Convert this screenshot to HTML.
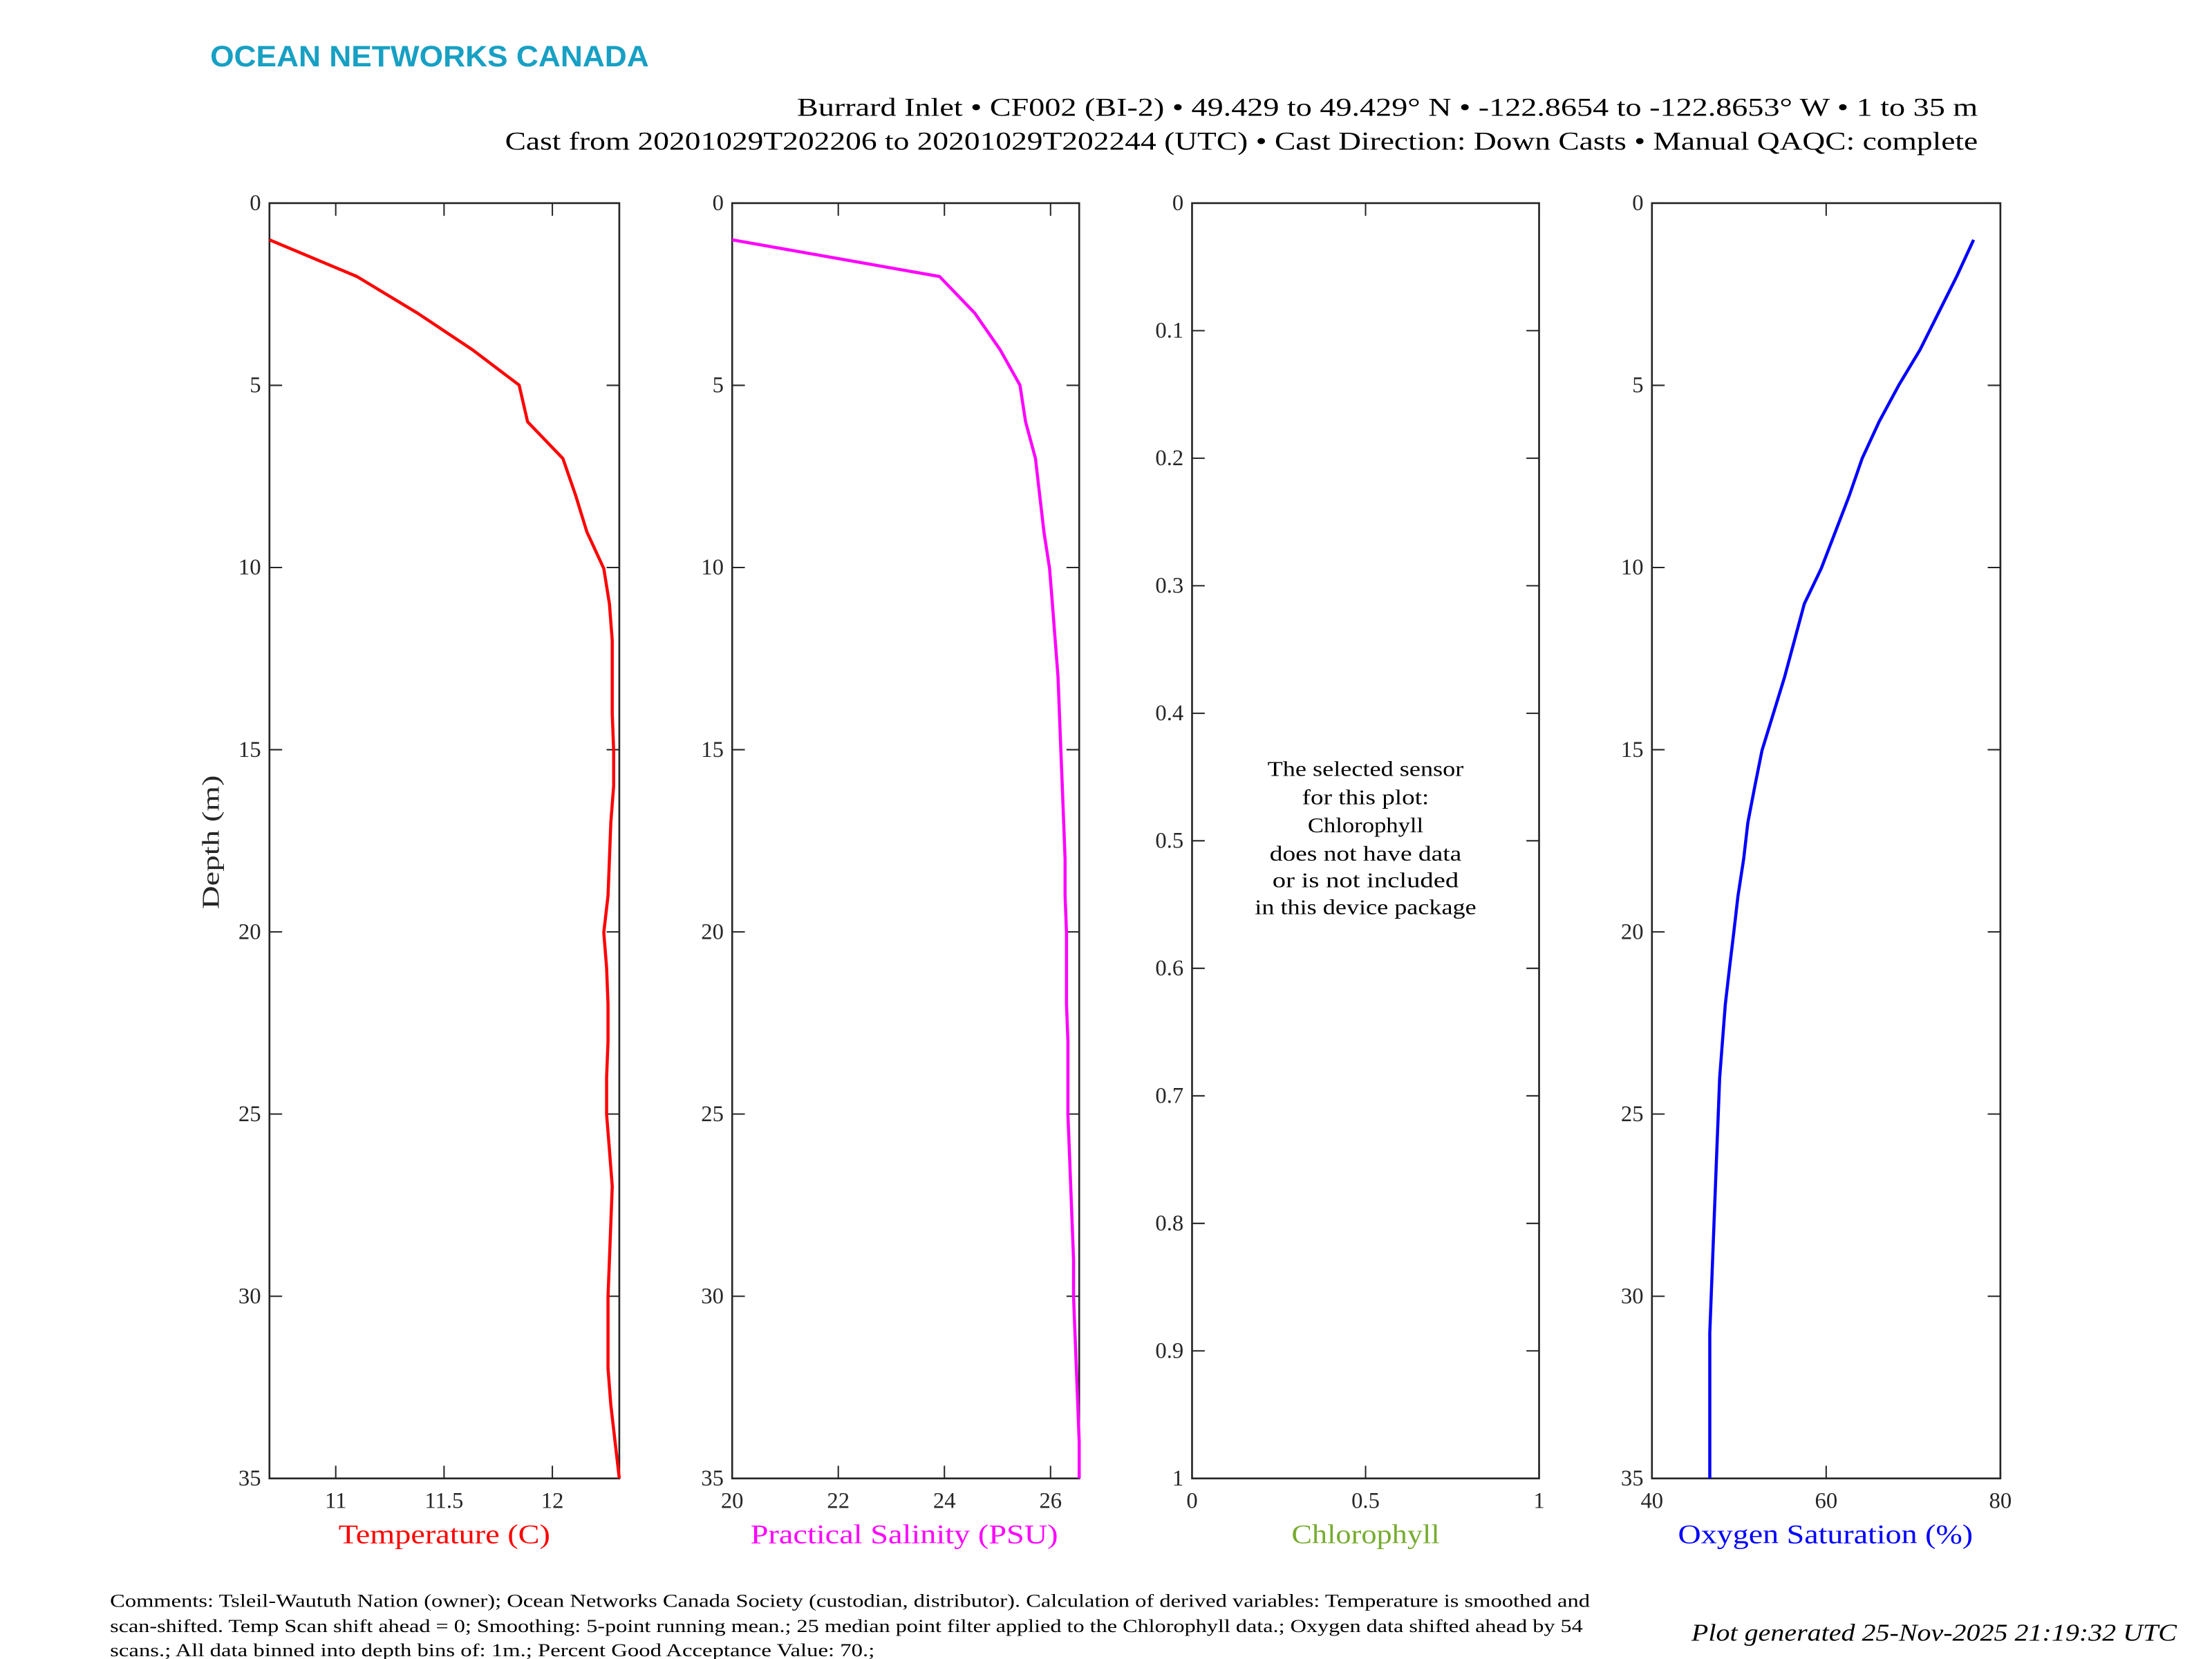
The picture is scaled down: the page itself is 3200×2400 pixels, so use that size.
<!DOCTYPE html>
<html><head><meta charset="utf-8"><style>
html,body{margin:0;padding:0;background:#fff;}
svg{display:block;}
text{font-family:"Liberation Serif",serif;fill:#262626;}
</style></head><body>
<svg width="3200" height="2400" viewBox="0 0 1568 1176" xmlns="http://www.w3.org/2000/svg">
<rect width="1568" height="1176" fill="#fff"/>
<text x="149" y="47" textLength="311" lengthAdjust="spacingAndGlyphs" style="font-family:'Liberation Sans',sans-serif;font-weight:bold;font-size:21px;fill:#17a0c4">OCEAN NETWORKS CANADA</text>
<text x="565" y="82" textLength="837" lengthAdjust="spacingAndGlyphs" style="font-size:18px;fill:#000">Burrard Inlet • CF002 (BI-2) • 49.429 to 49.429° N • -122.8654 to -122.8653° W • 1 to 35 m</text>
<text x="358" y="106" textLength="1044" lengthAdjust="spacingAndGlyphs" style="font-size:18px;fill:#000">Cast from 20201029T202206 to 20201029T202244 (UTC) • Cast Direction: Down Casts • Manual QAQC: complete</text>

<g id="axes" fill="none" stroke="#262626" stroke-width="1.3">
<rect x="191" y="144" width="248" height="904"/>
<rect x="519" y="144" width="246" height="904"/>
<rect x="845" y="144" width="246" height="904"/>
<rect x="1171" y="144" width="247" height="904"/>
</g>
<g stroke="#262626" stroke-width="1" id="ticks"></g>
<g id="labels" style="font-size:16px"></g>

<polyline fill="none" stroke="#ff0000" stroke-width="2.2" stroke-linejoin="round" points="191,170 253,196 296,222 335,248 368,273 374,299 399,325 408,351 416,377 428,403 432,428 434,454 434,480 434,506 435,532 435,557 433,583 432,609 431,635 428,661 430,686 431,712 431,738 430,764 430,790 432,815 434,841 433,867 432,893 431,919 431,945 431,970 433,996 436,1022 439,1048"/>
<polyline fill="none" stroke="#ff00ff" stroke-width="2.2" stroke-linejoin="round" points="519,170 666,196 691,222 709,248 723,273 727,299 734,325 737,351 740,377 744,403 746,428 748,454 750,480 751,506 752,532 753,557 754,583 755,609 755,635 756,661 756,686 756,712 757,738 757,764 757,790 758,815 759,841 760,867 761,893 761,919 762,945 763,970 764,996 765,1022 765,1048"/>
<polyline fill="none" stroke="#0000ff" stroke-width="2.2" stroke-linejoin="round" points="1399,170 1387,196 1374,222 1361,248 1346,273 1332,299 1320,325 1311,351 1301,377 1291,403 1279,428 1272,454 1265,480 1257,506 1249,532 1244,557 1239,583 1236,609 1232,635 1229,661 1226,686 1223,712 1221,738 1219,764 1218,790 1217,815 1216,841 1215,867 1214,893 1213,919 1212,945 1212,970 1212,996 1212,1022 1212,1048"/>

<g style="font-size:15px" text-anchor="middle">
<text x="968" y="550" textLength="139" lengthAdjust="spacingAndGlyphs" style="fill:#000">The selected sensor</text>
<text x="968" y="570" textLength="90" lengthAdjust="spacingAndGlyphs" style="fill:#000">for this plot:</text>
<text x="968" y="590" textLength="82" lengthAdjust="spacingAndGlyphs" style="fill:#000">Chlorophyll</text>
<text x="968" y="610" textLength="136" lengthAdjust="spacingAndGlyphs" style="fill:#000">does not have data</text>
<text x="968" y="629" textLength="132" lengthAdjust="spacingAndGlyphs" style="fill:#000">or is not included</text>
<text x="968" y="648" textLength="157" lengthAdjust="spacingAndGlyphs" style="fill:#000">in this device package</text>
</g>

<g style="font-size:19px" text-anchor="middle">
<text x="315" y="1094" textLength="150" lengthAdjust="spacingAndGlyphs" style="fill:#ff0000">Temperature (C)</text>
<text x="641" y="1094" textLength="218" lengthAdjust="spacingAndGlyphs" style="fill:#ff00ff">Practical Salinity (PSU)</text>
<text x="968" y="1094" textLength="105" lengthAdjust="spacingAndGlyphs" style="fill:#77ac30">Chlorophyll</text>
<text x="1294" y="1094" textLength="209" lengthAdjust="spacingAndGlyphs" style="fill:#0000ff">Oxygen Saturation (%)</text>
<text transform="translate(155,597) rotate(-90)" textLength="95" lengthAdjust="spacingAndGlyphs" style="font-size:17px">Depth (m)</text>
</g>

<g style="font-size:13px;fill:#000">
<text x="78" y="1139" textLength="1049" lengthAdjust="spacingAndGlyphs" style="fill:#000">Comments: Tsleil-Waututh Nation (owner); Ocean Networks Canada Society (custodian, distributor). Calculation of derived variables: Temperature is smoothed and</text>
<text x="78" y="1157" textLength="1044" lengthAdjust="spacingAndGlyphs" style="fill:#000">scan-shifted. Temp Scan shift ahead = 0; Smoothing: 5-point running mean.; 25 median point filter applied to the Chlorophyll data.; Oxygen data shifted ahead by 54</text>
<text x="78" y="1174" textLength="542" lengthAdjust="spacingAndGlyphs" style="fill:#000">scans.; All data binned into depth bins of: 1m.; Percent Good Acceptance Value: 70.;</text>
</g>
<text x="1199" y="1163" textLength="344" lengthAdjust="spacingAndGlyphs" style="font-size:17px;font-style:italic;fill:#000">Plot generated 25-Nov-2025 21:19:32 UTC</text>
</svg>
<script>
(function(){
var NS="http://www.w3.org/2000/svg";
var T=document.getElementById("ticks"),L=document.getElementById("labels");
function ln(x1,y1,x2,y2){var e=document.createElementNS(NS,"line");e.setAttribute("x1",x1);e.setAttribute("y1",y1);e.setAttribute("x2",x2);e.setAttribute("y2",y2);T.appendChild(e);}
function tx(x,y,s,a){var e=document.createElementNS(NS,"text");e.setAttribute("x",x);e.setAttribute("y",y);e.setAttribute("text-anchor",a);e.textContent=s;L.appendChild(e);}
var axes=[
 {l:191,r:439,x0:10.694,x1:12.309,xt:[[11,"11"],[11.5,"11.5"],[12,"12"]],yc:0},
 {l:519,r:765,x0:20,x1:26.54,xt:[[20,"20"],[22,"22"],[24,"24"],[26,"26"]],yc:0},
 {l:845,r:1091,x0:0,x1:1,xt:[[0,"0"],[0.5,"0.5"],[1,"1"]],yc:1},
 {l:1171,r:1418,x0:40,x1:80,xt:[[40,"40"],[60,"60"],[80,"80"]],yc:0}];
var top=144,bot=1048,tk=9;
axes.forEach(function(a){
 a.xt.forEach(function(t){var x=a.l+(t[0]-a.x0)/(a.x1-a.x0)*(a.r-a.l);
  ln(x,bot,x,bot-tk);ln(x,top,x,top+tk);tx(x,bot+21,t[1],"middle");});
 if(a.yc){for(var i=0;i<=10;i++){var y=top+i*(bot-top)/10;ln(a.l,y,a.l+tk,y);ln(a.r,y,a.r-tk,y);
   var s=i==0?"0":i==10?"1":"0."+i;tx(a.l-6,y+5,s,"end");}}
 else{for(var d=0;d<=35;d+=5){var y=top+d*(bot-top)/35;ln(a.l,y,a.l+tk,y);ln(a.r,y,a.r-tk,y);tx(a.l-6,y+5,""+d,"end");}}
});
})();
</script>
</body></html>
